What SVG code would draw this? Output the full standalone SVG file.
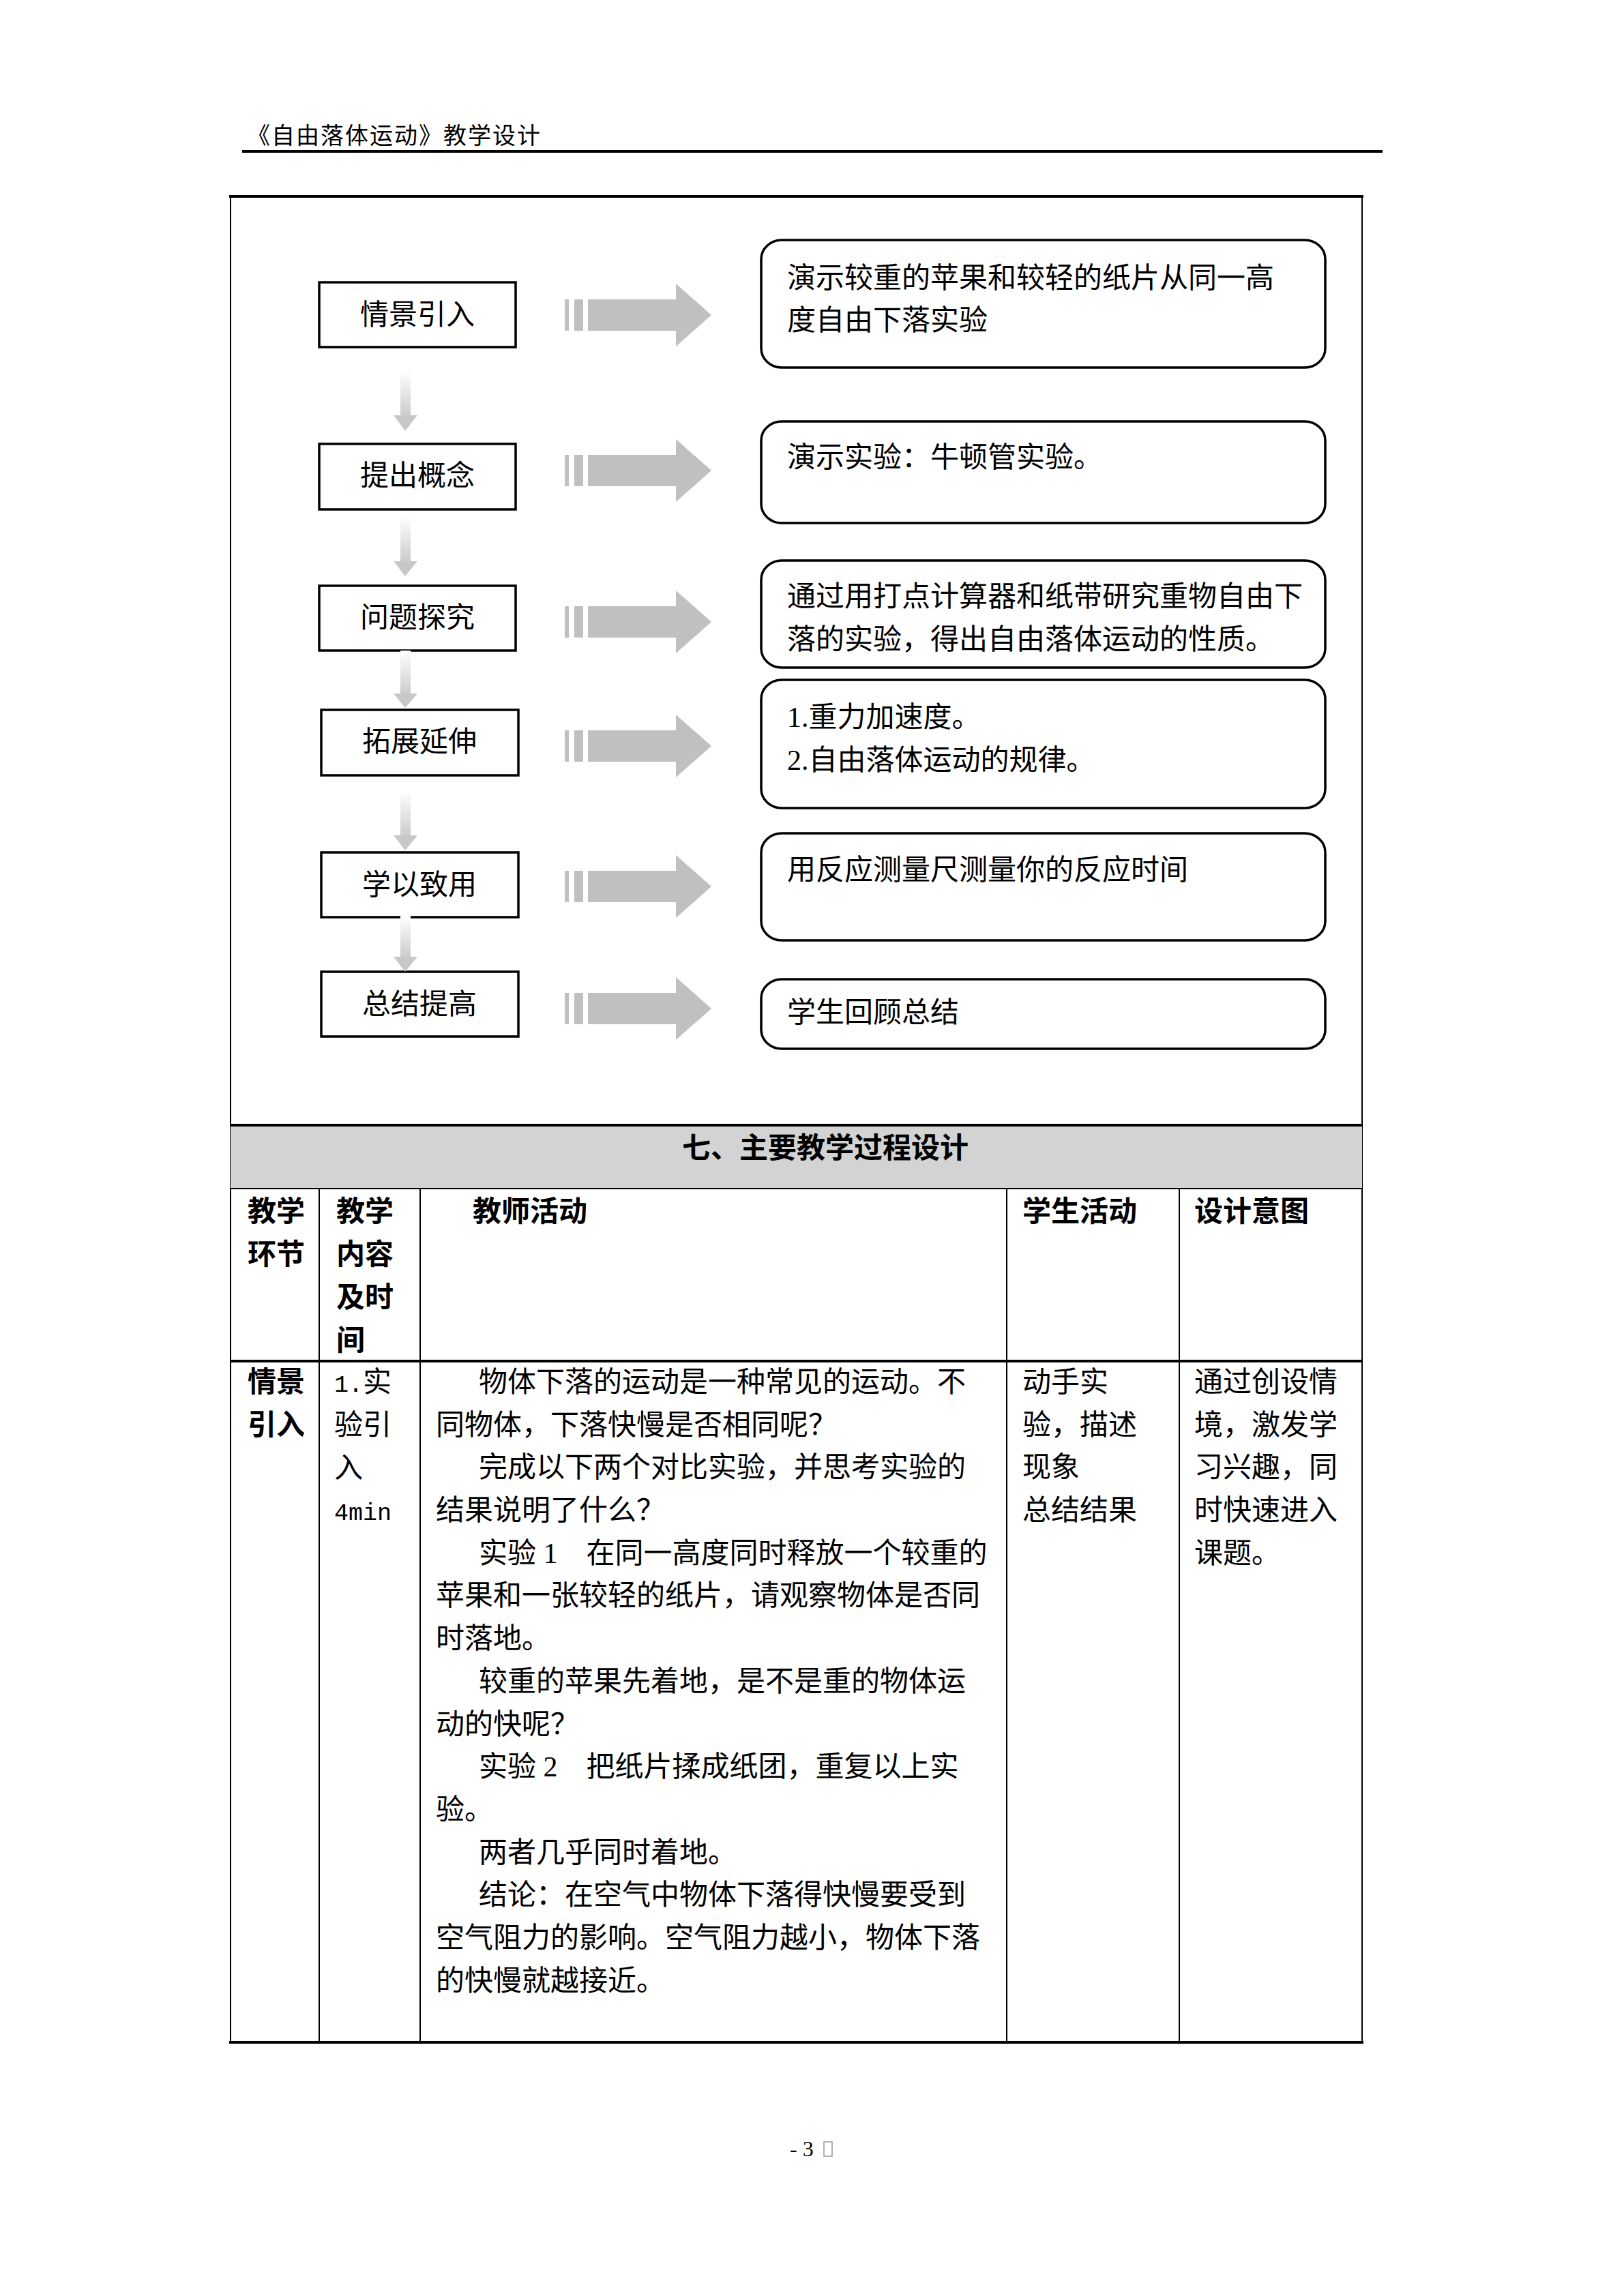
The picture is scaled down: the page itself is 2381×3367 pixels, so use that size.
<svg xmlns="http://www.w3.org/2000/svg" width="2381" height="3367" viewBox="0 0 2381 3367">
<style>
text{font-family:"Liberation Serif","Noto Sans CJK SC",serif;font-size:42px;fill:#000}
.hd{font-size:34px;letter-spacing:2px}
.b{font-weight:bold}
.box{fill:#fff;stroke:#000;stroke-width:3.5}
.rbox{fill:#fff;stroke:#000;stroke-width:3.5}
.mid{text-anchor:middle}
.grid{stroke:#000;stroke-width:2;fill:none}
.thick{stroke:#000;stroke-width:4;fill:none}
.mono{font-family:"Liberation Mono","Noto Sans CJK SC",monospace;font-size:35px}
</style>
<defs>
<linearGradient id="shaftGrad" x1="0" y1="0" x2="0" y2="1">
<stop offset="0" stop-color="#ffffff"/>
<stop offset="1" stop-color="#cccccc"/>
</linearGradient>
<g id="rarrow" fill="#c0c0c0">
<rect x="828" y="-23" width="6" height="46"/>
<rect x="842" y="-23" width="13" height="46"/>
<polygon points="862,-23 991,-23 991,-46 1043,0 991,46 991,23 862,23"/>
</g>
</defs>
<rect x="0" y="0" width="2381" height="3367" fill="#fff"/>

<g id="page-header">
<text class="hd" x="362" y="211">《自由落体运动》教学设计</text>
<line x1="355" y1="222" x2="2027" y2="222" stroke="#000" stroke-width="4"/>
</g>

<g id="table-frame">
<rect x="338" y="288" width="1659" height="2707" class="grid"/>
<line x1="336" y1="288" x2="1999" y2="288" class="thick"/>
<rect x="338" y="1650" width="1659" height="93" fill="#d3d3d3"/>
<line x1="338" y1="1650" x2="1997" y2="1650" class="thick"/>
<line x1="338" y1="1743" x2="1997" y2="1743" class="grid"/>
<line x1="338" y1="1996" x2="1997" y2="1996" class="thick"/>
<line x1="336" y1="2995" x2="1999" y2="2995" class="thick"/>
<line x1="468" y1="1743" x2="468" y2="2995" class="grid"/>
<line x1="616" y1="1743" x2="616" y2="2995" class="grid"/>
<line x1="1476" y1="1743" x2="1476" y2="2995" class="grid"/>
<line x1="1729" y1="1743" x2="1729" y2="2995" class="grid"/>
</g>

<g id="step1">
<rect class="box" x="468" y="414" width="288" height="95"/>
<text class="mid" x="612" y="476">情景引入</text>
</g>
<g id="step2">
<rect class="box" x="468" y="651" width="288" height="96"/>
<text class="mid" x="612" y="712">提出概念</text>
</g>
<g id="step3">
<rect class="box" x="468" y="859" width="288" height="95"/>
<text class="mid" x="612" y="920">问题探究</text>
</g>
<g id="step4">
<rect class="box" x="471" y="1041" width="289" height="96"/>
<text class="mid" x="615" y="1102">拓展延伸</text>
</g>
<g id="step5">
<rect class="box" x="471" y="1250" width="289" height="95"/>
<text class="mid" x="615" y="1312">学以致用</text>
</g>
<g id="step6">
<rect class="box" x="471" y="1425" width="289" height="95"/>
<text class="mid" x="615" y="1487">总结提高</text>
</g>

<g id="desc1">
<rect class="rbox" x="1116" y="352" width="827" height="187" rx="30" ry="28"/>
<text x="1154" y="422">演示较重的苹果和较轻的纸片从同一高</text>
<text x="1154" y="484">度自由下落实验</text>
</g>
<g id="desc2">
<rect class="rbox" x="1116" y="618" width="827" height="149" rx="30" ry="28"/>
<text x="1154" y="685">演示实验：牛顿管实验。</text>
</g>
<g id="desc3">
<rect class="rbox" x="1116" y="822" width="827" height="157" rx="30" ry="28"/>
<text x="1154" y="889">通过用打点计算器和纸带研究重物自由下</text>
<text x="1154" y="952">落的实验，得出自由落体运动的性质。</text>
</g>
<g id="desc4">
<rect class="rbox" x="1116" y="997" width="827" height="188" rx="30" ry="28"/>
<text x="1154" y="1066">1.重力加速度。</text>
<text x="1154" y="1129">2.自由落体运动的规律。</text>
</g>
<g id="desc5">
<rect class="rbox" x="1116" y="1222" width="827" height="157" rx="30" ry="28"/>
<text x="1154" y="1290">用反应测量尺测量你的反应时间</text>
</g>
<g id="desc6">
<rect class="rbox" x="1116" y="1436" width="827" height="102" rx="30" ry="28"/>
<text x="1154" y="1499">学生回顾总结</text>
</g>

<g id="connectors">
<use href="#rarrow" transform="translate(0,462)"/>
<use href="#rarrow" transform="translate(0,690)"/>
<use href="#rarrow" transform="translate(0,912)"/>
<use href="#rarrow" transform="translate(0,1094)"/>
<use href="#rarrow" transform="translate(0,1300)"/>
<use href="#rarrow" transform="translate(0,1479)"/>
<g fill="#c8c8c8">
<rect x="587" y="543" width="15" height="66" fill="url(#shaftGrad)"/>
<polygon points="577,609 612,609 594,632"/>
<rect x="587" y="757" width="15" height="66" fill="url(#shaftGrad)"/>
<polygon points="577,823 612,823 594,845"/>
<rect x="587" y="954" width="15" height="63" fill="url(#shaftGrad)"/>
<polygon points="577,1017 612,1017 594,1038"/>
<rect x="587" y="1160" width="15" height="65" fill="url(#shaftGrad)"/>
<polygon points="577,1225 612,1225 594,1247"/>
<rect x="587" y="1343" width="15" height="60" fill="url(#shaftGrad)"/>
<polygon points="577,1403 612,1403 594,1425"/>
</g>
</g>

<g id="section-title">
<text class="b" x="1000" y="1698">七、主要教学过程设计</text>
</g>

<g id="table-head">
<text class="b" x="363" y="1791">教学</text>
<text class="b" x="363" y="1854">环节</text>
<text class="b" x="493" y="1791">教学</text>
<text class="b" x="493" y="1854">内容</text>
<text class="b" x="493" y="1917">及时</text>
<text class="b" x="493" y="1980">间</text>
<text class="b" x="693" y="1791">教师活动</text>
<text class="b" x="1499" y="1791">学生活动</text>
<text class="b" x="1751" y="1791">设计意图</text>
</g>

<g id="table-row1">
<text class="b" x="363" y="2041">情景</text>
<text class="b" x="363" y="2104">引入</text>
<text x="490" y="2041"><tspan class="mono">1.</tspan>实</text>
<text x="490" y="2104">验引</text>
<text x="490" y="2167">入</text>
<text class="mono" x="490" y="2229">4min</text>
<text x="702" y="2041">物体下落的运动是一种常见的运动。不</text>
<text x="639" y="2104">同物体，下落快慢是否相同呢？</text>
<text x="702" y="2166">完成以下两个对比实验，并思考实验的</text>
<text x="639" y="2229">结果说明了什么？</text>
<text x="702" y="2292">实验 1　在同一高度同时释放一个较重的</text>
<text x="639" y="2354">苹果和一张较轻的纸片，请观察物体是否同</text>
<text x="639" y="2417">时落地。</text>
<text x="702" y="2480">较重的苹果先着地，是不是重的物体运</text>
<text x="639" y="2543">动的快呢？</text>
<text x="702" y="2605">实验 2　把纸片揉成纸团，重复以上实</text>
<text x="639" y="2668">验。</text>
<text x="702" y="2731">两者几乎同时着地。</text>
<text x="702" y="2793">结论：在空气中物体下落得快慢要受到</text>
<text x="639" y="2856">空气阻力的影响。空气阻力越小，物体下落</text>
<text x="639" y="2919">的快慢就越接近。</text>
<text x="1499" y="2041">动手实</text>
<text x="1499" y="2104">验，描述</text>
<text x="1499" y="2166">现象</text>
<text x="1499" y="2229">总结结果</text>
<text x="1751" y="2041">通过创设情</text>
<text x="1751" y="2104">境，激发学</text>
<text x="1751" y="2166">习兴趣，同</text>
<text x="1751" y="2229">时快速进入</text>
<text x="1751" y="2292">课题。</text>
</g>

<g id="page-number">
<text x="1158" y="3162" style="font-size:32px">- 3</text>
<rect x="1208" y="3141" width="12" height="21" fill="none" stroke="#999" stroke-width="1.5"/>
</g>
</svg>
